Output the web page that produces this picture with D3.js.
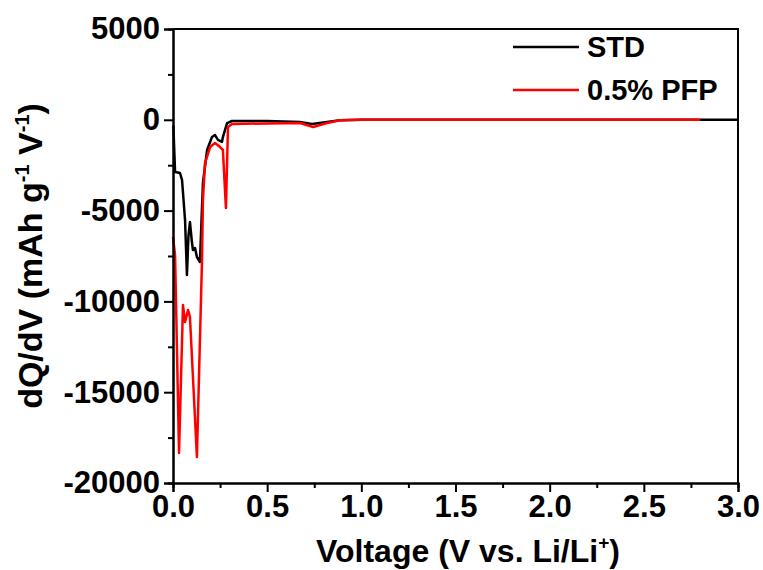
<!DOCTYPE html>
<html>
<head>
<meta charset="utf-8">
<script src="https://cdn.jsdelivr.net/npm/d3@7"></script>
<style>
  body { margin: 0; background: #fff; }
  text { font-family: "Liberation Sans", Arial, sans-serif; font-weight: bold; }
</style>
</head>
<body>
<svg id="dqdv"></svg>
<script>
// voltage (V) and dQ/dV (mAh g-1 V-1)
const std_v = [0.002, 0.006, 0.011, 0.025, 0.037, 0.048, 0.064, 0.074, 0.082, 0.09, 0.101, 0.106, 0.117, 0.127, 0.143,
               0.159, 0.181, 0.207, 0.223, 0.239, 0.260, 0.265, 0.287, 0.313, 0.5, 0.674, 0.738, 0.818, 0.887, 1.0, 1.5, 2.0, 2.5, 3.0];
const std_q = [-300, -1500, -2875, -2900, -2930, -3316, -5520, -8550, -6400, -5630, -6785, -7170, -7060, -7556, -7830,
               -3480, -1660, -950, -840, -1110, -1220, -950, -180, -66, -70, -120, -230, -120, -20, 0, 0, 0, 0, 0];

const pfp_v = [0.0, 0.011, 0.032, 0.053, 0.064, 0.080, 0.090, 0.127, 0.154, 0.159, 0.170, 0.197, 0.223, 0.250, 0.265,
               0.281, 0.292, 0.313, 0.5, 0.674, 0.744, 0.818, 0.887, 1.0, 1.5, 2.0, 2.5, 2.8];
const pfp_q = [-6455, -7446, -18350, -10200, -11135, -10475, -10860, -18570, -7720, -4420, -2380, -1500, -1280, -1500, -1660,
               -4860, -400, -230, -200, -180, -400, -180, -30, 0, 0, 0, 0, 0];

const series = [
  {name: "STD", color: "#000000", v: std_v, q: std_q},
  {name: "0.5% PFP", color: "#ff0000", v: pfp_v, q: pfp_q}
];

const x_ticks = [0, 0.5, 1.0, 1.5, 2.0, 2.5, 3.0];
const y_ticks = [-20000, -15000, -10000, -5000, 0, 5000];

const svg_size = {width: 763, height: 570};
const plot_margin = {top: 29, right: 25, bottom: 87, left: 173};
const plot_width = svg_size.width - plot_margin.left - plot_margin.right;
const plot_height = svg_size.height - plot_margin.top - plot_margin.bottom;

const svg = d3.select("#dqdv")
    .attr("width", svg_size.width)
    .attr("height", svg_size.height);
const plot = svg.append("g")
    .attr("transform", `translate(${plot_margin.left},${plot_margin.top})`);

const x = d3.scaleLinear().domain([0, 3]).range([0, plot_width]);
const y = d3.scaleLinear().domain([-20000, 5000]).range([plot_height, 0]);

// data lines
const line = d3.line()
    .x(d => x(d[0]))
    .y(d => y(d[1]));

series.forEach(s => {
  plot.append("path")
      .datum(s.v.map((v, i) => [v, s.q[i]]))
      .attr("fill", "none")
      .attr("stroke", s.color)
      .attr("stroke-width", 2.5)
      .attr("stroke-linejoin", "round")
      .attr("d", line);
});

// frame top / right
plot.append("path")
    .attr("d", `M0,0H${plot_width}V${plot_height}`)
    .attr("fill", "none")
    .attr("stroke", "#000")
    .attr("stroke-width", 2);

// minor ticks
const x_minor = d3.range(0.25, 3, 0.5);
const y_minor = d3.range(-17500, 5000, 5000);

const xAxis = plot.append("g")
    .attr("transform", `translate(0,${plot_height})`);
xAxis.call(d3.axisBottom(x).tickValues(x_minor).tickSize(5).tickFormat(""));
xAxis.append("g").call(d3.axisBottom(x).tickValues(x_ticks).tickSize(9).tickPadding(3).tickFormat(d => d.toFixed(1)));

const yAxis = plot.append("g");
yAxis.call(d3.axisLeft(y).tickValues(y_minor).tickSize(5).tickFormat(""));
// plain hyphen for negatives, as in the original
yAxis.append("g").call(d3.axisLeft(y).tickValues(y_ticks).tickSize(9).tickPadding(4).tickFormat(d => String(d)));

plot.selectAll(".domain").attr("stroke-width", 2);
plot.selectAll(".tick line").attr("stroke-width", 2);
plot.selectAll(".tick text")
    .attr("font-size", 31)
    .attr("fill", "#000")
    .attr("font-family", "Liberation Sans, Arial, sans-serif")
    .attr("font-weight", "bold");

// axis labels
svg.append("text")
    .attr("x", 468)
    .attr("y", 562)
    .attr("text-anchor", "middle")
    .attr("font-size", 32)
    .html('Voltage (V vs. Li/Li<tspan dy="-13" font-size="19">+</tspan><tspan dy="13">)</tspan>');

svg.append("text")
    .attr("transform", `translate(42,${plot_margin.top + plot_height / 2}) rotate(-90)`)
    .attr("text-anchor", "middle")
    .attr("font-size", 34)
    .html('dQ/dV (mAh g<tspan dy="-13" font-size="20">-1</tspan><tspan dy="13"> V</tspan><tspan dy="-13" font-size="20">-1</tspan><tspan dy="13">)</tspan>');

// legend
const legend = svg.append("g").attr("transform", "translate(513,47)");
series.forEach((s, i) => {
  const row = legend.append("g").attr("transform", `translate(0,${i * 43})`);
  row.append("line")
      .attr("x1", 0).attr("x2", 66)
      .attr("stroke", s.color)
      .attr("stroke-width", 2.5);
  row.append("text")
      .attr("x", 74)
      .attr("y", 10)
      .attr("font-size", 29)
      .text(s.name);
});
</script>
</body>
</html>
